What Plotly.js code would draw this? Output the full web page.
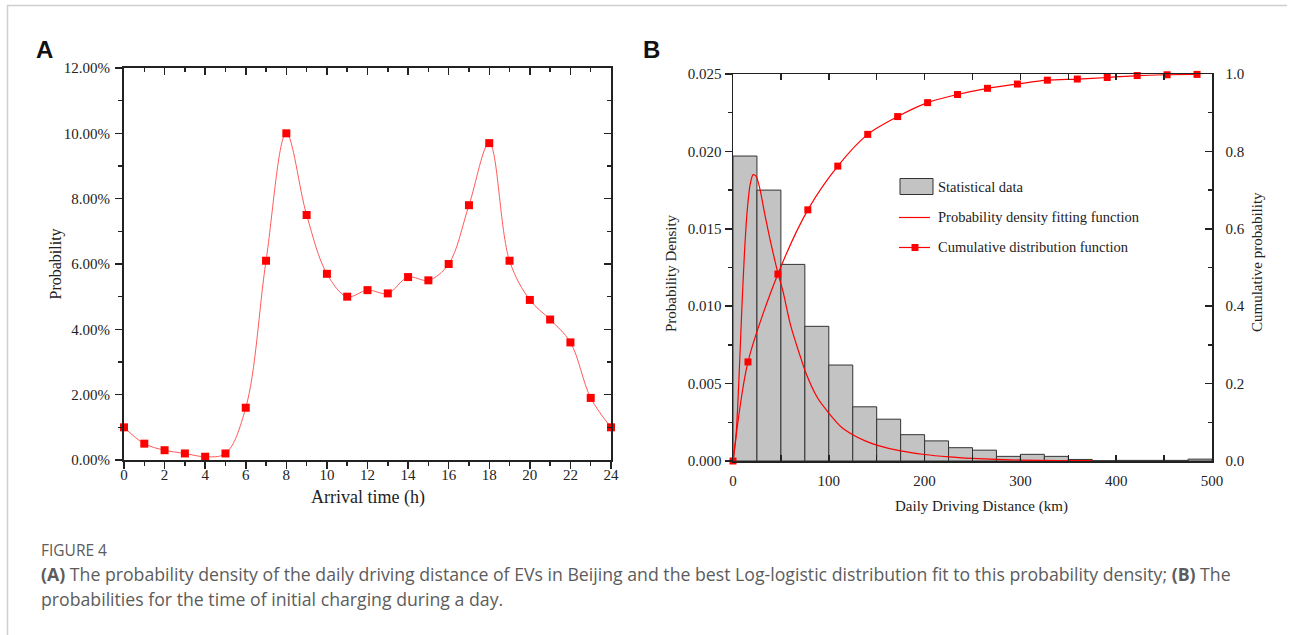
<!DOCTYPE html>
<html>
<head>
<meta charset="utf-8">
<script src="https://cdn.plot.ly/plotly-3.0.1.min.js"></script>
<style>html,body{margin:0;padding:0;background:#fff;}#chart{width:1291px;height:635px;}</style>
</head>
<body>
<div id="chart"></div>
<script>
// ---- Panel A data: arrival time probability (%) ----
const arrivalHours = [0,1,2,3,4,5,6,7,8,9,10,11,12,13,14,15,16,17,18,19,20,21,22,23,24];
const arrivalProb = [1.0,0.5,0.3,0.2,0.1,0.2,1.6,6.1,10.0,7.5,5.7,5.0,5.2,5.1,5.6,5.5,6.0,7.8,9.7,6.1,4.9,4.3,3.6,1.9,1.0];
const probTickVals = [0,2,4,6,8,10,12];
const probTickText = ['0.00%','2.00%','4.00%','6.00%','8.00%','10.00%','12.00%'];
const hourTickVals = [0,2,4,6,8,10,12,14,16,18,20,22,24];

// ---- Panel B data ----
const binCenters = [12.5,37.5,62.5,87.5,112.5,137.5,162.5,187.5,212.5,237.5,262.5,287.5,312.5,337.5,362.5,387.5,412.5,437.5,462.5,487.5];
const binDensity = [0.0197,0.0175,0.0127,0.0087,0.0062,0.0035,0.0027,0.0017,0.0013,0.00086,0.0007,0.0003,0.00043,0.0003,0.0001,0.00002,0.00004,0.00004,0.00004,0.00012];
const pdfX = [0,3,6,9,12,15,18,21,24,28,33,38,42,47,52,60,70,76,88,100,113,125,138,150,175,200,225,250,275,300,340,375];
const pdfY = [0,0.0015,0.005,0.0095,0.0135,0.0163,0.0179,0.0185,0.0184,0.0176,0.0160,0.0145,0.0134,0.0121,0.0110,0.0088,0.0068,0.0057,0.0041,0.0031,0.0022,0.0017,0.0013,0.00103,0.00065,0.00042,0.00027,0.00017,0.0001,0.00006,0.00003,0.00002];
const cdfX = [0,15.625,46.875,78.125,109.375,140.625,171.875,203.125,234.375,265.625,296.875,328.125,359.375,390.625,421.875,453.125,484.375];
const cdfY = [0,0.256,0.483,0.649,0.762,0.844,0.890,0.926,0.947,0.963,0.974,0.984,0.987,0.991,0.996,0.998,0.999];
const distTickVals = [0,100,200,300,400,500];
const densTickVals = [0,0.005,0.01,0.015,0.02,0.025];
const cumTickVals = [0,0.2,0.4,0.6,0.8,1.0];

const W = 1291, H = 635;
const px = v => v / W;
const py = v => 1 - v / H;

const serif = 'Liberation Serif';
const capFont = 'Open Sans';
const axisCol = '#222';

const traces = [
  {
    x: arrivalHours, y: arrivalProb, xaxis: 'x', yaxis: 'y',
    type: 'scatter', mode: 'lines+markers', cliponaxis: false,
    line: {color: '#ff5a5a', width: 1, shape: 'spline', smoothing: 1},
    marker: {symbol: 'square', size: 8, color: '#ff0000'},
    showlegend: false
  },
  {x: [], y: [], xaxis: 'x3', yaxis: 'y', type: 'scatter', showlegend: false},
  {x: [], y: [], xaxis: 'x', yaxis: 'y3', type: 'scatter', showlegend: false},
  {
    x: binCenters, y: binDensity, xaxis: 'x2', yaxis: 'y2', type: 'bar',
    width: 25, marker: {color: '#c3c3c3', line: {color: '#333', width: 1}},
    name: 'Statistical data', showlegend: false
  },
  {
    x: pdfX, y: pdfY, xaxis: 'x2', yaxis: 'y2', type: 'scatter', mode: 'lines',
    line: {color: '#ff0000', width: 1.2, shape: 'spline', smoothing: 0.8},
    name: 'Probability density fitting function', showlegend: false
  },
  {x: [], y: [], xaxis: 'x4', yaxis: 'y2', type: 'scatter', showlegend: false},
  {
    x: cdfX, y: cdfY, xaxis: 'x2', yaxis: 'y4', type: 'scatter', mode: 'lines+markers',
    cliponaxis: false,
    line: {color: '#ff0000', width: 1.2, shape: 'spline', smoothing: 0.8},
    marker: {symbol: 'square', size: 7, color: '#ff0000'},
    name: 'Cumulative distribution function', showlegend: false
  }
];

const tickFont = {family: serif, size: 15, color: '#222'};
const baseAx = {showgrid: false, zeroline: false, showline: true, fixedrange: true};
const tk = (dir, len) => ({ticks: dir, ticklen: len, tickwidth: 1.5, tickcolor: axisCol});

const layout = {
  width: W, height: H,
  margin: {l: 0, r: 0, t: 0, b: 0},
  font: {family: serif, size: 15, color: '#222'},
  paper_bgcolor: '#fff', plot_bgcolor: 'rgba(0,0,0,0)',
  showlegend: false,
  bargap: 0,
  // Panel A
  xaxis: Object.assign({}, baseAx, tk('outside', 7), {
    domain: [px(124), px(611)], anchor: 'y', range: [0, 24],
    tickmode: 'array', tickvals: hourTickVals,
    minor: Object.assign({dtick: 1, tick0: 0}, tk('outside', 4)),
    linecolor: axisCol, linewidth: 2, tickfont: tickFont, ticklabelstandoff: -7
  }),
  xaxis3: Object.assign({}, baseAx, tk('inside', 7), {
    overlaying: 'x', anchor: 'y', side: 'top', range: [0, 24],
    tickmode: 'array', tickvals: hourTickVals, showticklabels: false,
    minor: Object.assign({dtick: 1, tick0: 0}, tk('inside', 4)),
    linecolor: axisCol, linewidth: 2
  }),
  yaxis: Object.assign({}, baseAx, tk('outside', 7), {
    domain: [py(460), py(68)], anchor: 'x', range: [0, 12],
    tickmode: 'array', tickvals: probTickVals, ticktext: probTickText,
    minor: Object.assign({dtick: 1, tick0: 0}, tk('outside', 4)),
    linecolor: axisCol, linewidth: 2, tickfont: tickFont, ticklabelstandoff: 2
  }),
  yaxis3: Object.assign({}, baseAx, tk('inside', 7), {
    overlaying: 'y', anchor: 'x', side: 'right', range: [0, 12],
    tickmode: 'array', tickvals: probTickVals, showticklabels: false,
    minor: Object.assign({dtick: 1, tick0: 0}, tk('inside', 4)),
    linecolor: axisCol, linewidth: 2
  }),
  // Panel B
  xaxis2: Object.assign({}, baseAx, tk('inside', 6), {
    domain: [px(733), px(1212)], anchor: 'y2', range: [0, 500],
    tickmode: 'array', tickvals: distTickVals,
    minor: Object.assign({dtick: 50, tick0: 0}, tk('inside', 6)),
    linecolor: axisCol, linewidth: 1.5, tickfont: tickFont, ticklabelstandoff: 5
  }),
  xaxis4: Object.assign({}, baseAx, tk('inside', 6), {
    overlaying: 'x2', anchor: 'y2', side: 'top', range: [0, 500],
    tickmode: 'array', tickvals: distTickVals, showticklabels: false,
    minor: Object.assign({dtick: 50, tick0: 0}, tk('inside', 6)),
    linecolor: axisCol, linewidth: 1.5
  }),
  yaxis2: Object.assign({}, baseAx, tk('outside', 7), {
    domain: [py(461), py(74)], anchor: 'x2', range: [0, 0.025],
    tickmode: 'array', tickvals: densTickVals, tickformat: '.3f',
    minor: Object.assign({dtick: 0.0025, tick0: 0}, tk('outside', 4)),
    linecolor: axisCol, linewidth: 1.5, tickfont: tickFont
  }),
  yaxis4: Object.assign({}, baseAx, tk('inside', 7), {
    overlaying: 'y2', anchor: 'x2', side: 'right', range: [0, 1],
    tickmode: 'array', tickvals: cumTickVals, tickformat: '.1f',
    minor: Object.assign({dtick: 0.1, tick0: 0}, tk('inside', 4)),
    linecolor: axisCol, linewidth: 1.5, tickfont: tickFont, ticklabelstandoff: 9
  }),
  shapes: [
    {type: 'line', xref: 'paper', yref: 'paper', x0: px(7), x1: px(1287), y0: py(5.5), y1: py(5.5), line: {color: '#cfcfcf', width: 1.5}},
    {type: 'line', xref: 'paper', yref: 'paper', x0: px(7.5), x1: px(7.5), y0: py(5), y1: 0, line: {color: '#cfcfcf', width: 1.5}},
    {type: 'rect', xref: 'paper', yref: 'paper', x0: px(900), x1: px(933), y0: py(194.5), y1: py(178.5), fillcolor: '#c3c3c3', line: {color: '#333', width: 1}},
    {type: 'line', xref: 'paper', yref: 'paper', x0: px(899), x1: px(930), y0: py(217.5), y1: py(217.5), line: {color: '#ff0000', width: 1.2}},
    {type: 'line', xref: 'paper', yref: 'paper', x0: px(899), x1: px(930), y0: py(247.5), y1: py(247.5), line: {color: '#ff0000', width: 1.2}},
    {type: 'rect', xref: 'paper', yref: 'paper', x0: px(911.5), x1: px(918.5), y0: py(251), y1: py(244), fillcolor: '#ff0000', line: {width: 0}}
  ],
  annotations: [
    {text: '<b>A</b>', x: px(34), y: py(49), xanchor: 'left', font: {family: 'Liberation Sans', size: 24, color: '#111'}},
    {text: '<b>B</b>', x: px(641), y: py(49), xanchor: 'left', font: {family: 'Liberation Sans', size: 24, color: '#111'}},
    {text: 'Arrival time (h)', x: px(367.5), y: py(497), font: {family: serif, size: 18, color: '#222'}},
    {text: 'Probability', x: px(55.5), y: py(264), textangle: -90, font: {family: serif, size: 16, color: '#222'}},
    {text: 'Daily Driving Distance (km)', x: px(981), y: py(506), font: {family: serif, size: 15, color: '#222'}},
    {text: 'Probability Density', x: px(671), y: py(273), textangle: -90, font: {family: serif, size: 15, color: '#222'}},
    {text: 'Cumulative probability', x: px(1257), y: py(262), textangle: -90, font: {family: serif, size: 15, color: '#222'}},
    {text: 'Statistical data', x: px(936), y: py(186.5), xanchor: 'left', font: {family: serif, size: 14.5, color: '#222'}},
    {text: 'Probability density fitting function', x: px(936), y: py(217), xanchor: 'left', font: {family: serif, size: 14.5, color: '#222'}},
    {text: 'Cumulative distribution function', x: px(936), y: py(247), xanchor: 'left', font: {family: serif, size: 14.5, color: '#222'}},
    {text: 'FIGURE 4', x: px(39), y: py(550), xanchor: 'left', font: {family: capFont, size: 15.5, color: '#5c5c5c'}},
    {text: '<b>(A)</b> The probability density of the daily driving distance of EVs in Beijing and the best Log-logistic distribution fit to this probability density; <b>(B)</b> The', x: px(39), y: py(574), xanchor: 'left', font: {family: capFont, size: 17.7, color: '#5c5c5c'}},
    {text: 'probabilities for the time of initial charging during a day.', x: px(39), y: py(599), xanchor: 'left', font: {family: capFont, size: 17.7, color: '#5c5c5c'}}
  ].map(a => Object.assign({xref: 'paper', yref: 'paper', xanchor: 'center', yanchor: 'middle', showarrow: false}, a))
};

Plotly.newPlot('chart', traces, layout, {displayModeBar: false, staticPlot: true});
</script>
</body>
</html>
